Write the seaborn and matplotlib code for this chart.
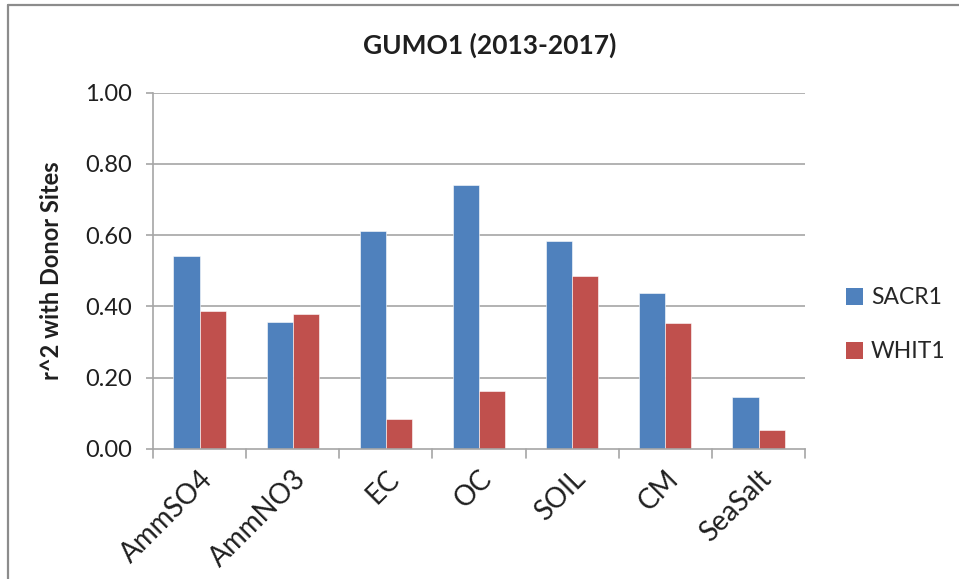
import matplotlib
matplotlib.use("Agg")
import matplotlib.pyplot as plt
from matplotlib.lines import Line2D
from matplotlib.patches import Patch
import seaborn as sns
import pandas as pd

categories = ["AmmSO4", "AmmNO3", "EC", "OC", "SOIL", "CM", "SeaSalt"]
sacr1 = [0.54, 0.356, 0.612, 0.742, 0.584, 0.438, 0.146]
whit1 = [0.388, 0.378, 0.083, 0.162, 0.485, 0.352, 0.053]
series = ["SACR1", "WHIT1"]
colors = ["#4F81BD", "#C0504D"]
yticks = [0.0, 0.2, 0.4, 0.6, 0.8, 1.0]

df = pd.DataFrame({
    "component": categories * 2,
    "site": [series[0]] * len(categories) + [series[1]] * len(categories),
    "r2": sacr1 + whit1,
})

sns.set_theme(style="white")
plt.rcParams["font.family"] = ["Lato", "DejaVu Sans"]

fig = plt.figure(figsize=(9.59, 5.79), dpi=100)
ax = fig.add_axes([0.1595, 0.225, 0.68, 0.615])

sns.barplot(data=df, x="component", y="r2", hue="site", order=categories,
            hue_order=series, palette=colors, width=0.56, saturation=1,
            edgecolor="white", linewidth=0.4, ax=ax, legend=False)

grid = "#A6A6A6"
txt = "#1F1F1F"
ax.set_ylim(0, 1.0)
ax.set_xlim(-0.5, len(categories) - 0.5)
ax.set_yticks(yticks)
ax.set_yticklabels([f"{v:.2f}" for v in yticks], fontsize=17, color=txt)
for v in yticks[1:]:
    ax.axhline(v, color=grid, lw=1.2, zorder=0)

ax.set_xticks(range(len(categories)))
ax.set_xticklabels(categories, rotation=45, ha="right", rotation_mode="anchor",
                   fontsize=20, color=txt)
ax.tick_params(axis="x", length=0, pad=12)
ax.tick_params(axis="y", left=True, length=5, width=1.2, color=grid, pad=10)

# category separator ticks under the x axis
for b in [i - 0.5 for i in range(len(categories) + 1)]:
    ax.add_line(Line2D([b, b], [0, -0.025], color=grid, lw=1.2,
                       transform=ax.transData, clip_on=False))

for side in ["top", "right"]:
    ax.spines[side].set_visible(False)
for side in ["left", "bottom"]:
    ax.spines[side].set_color(grid)
    ax.spines[side].set_linewidth(1.2)

ax.set_xlabel("")
ax.set_ylabel("r^2 with Donor Sites", fontsize=17, fontweight="bold",
              color=txt, labelpad=16)
ax.set_title("GUMO1 (2013-2017)", fontsize=19, fontweight="bold",
             color=txt, pad=28, x=0.517)

handles = [Patch(facecolor=c, edgecolor="none", label=s) for s, c in zip(series, colors)]
fig.legend(handles=handles, loc="center left", bbox_to_anchor=(0.882, 0.439),
           frameon=False, fontsize=16.5, handlelength=0.75, handleheight=0.75,
           handletextpad=0.35, labelspacing=1.45, borderpad=0, borderaxespad=0)

# outer chart frame (top and left edges)
fig.add_artist(Line2D([8 / 959, 1.0], [1 - 5 / 579, 1 - 5 / 579],
                      transform=fig.transFigure, color="#8C8C8C", lw=1.6))
fig.add_artist(Line2D([8 / 959, 8 / 959], [0, 1 - 5 / 579],
                      transform=fig.transFigure, color="#8C8C8C", lw=1.6))

fig.savefig("out.png", dpi=100, facecolor="white")
